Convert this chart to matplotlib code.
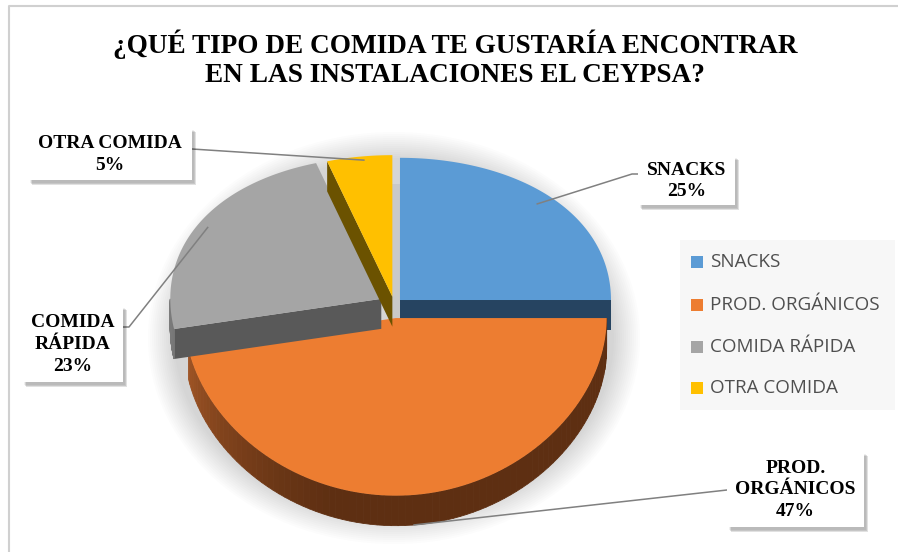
import numpy as np
import matplotlib.pyplot as plt
from matplotlib.patches import Polygon, Rectangle, Ellipse
from matplotlib.colors import to_rgb

categorias = ["SNACKS", "PROD. ORGÁNICOS", "COMIDA RÁPIDA", "OTRA COMIDA"]
porcentajes = [25, 47, 23, 5]
textos_etiqueta = ["SNACKS", "PROD.\nORGÁNICOS", "COMIDA\nRÁPIDA", "OTRA COMIDA"]
colores = ["#5b9bd5", "#ed7d31", "#a5a5a5", "#ffc000"]
colores_lado = ["#264461", "#5e2f12", "#595959", "#6b5200"]
colores_pared = ["#3d6b96", "#a85a28", "#7a7a7a", "#b08600"]
separacion = [0.04, 0.085, 0.07, 0.05]

titulo = "¿QUÉ TIPO DE COMIDA TE GUSTARÍA ENCONTRAR\nEN LAS INSTALACIONES EL CEYPSA?"

# geometria del pastel 3D en pixeles
CX, CY = 394, 304.5
RX, RY, K = 211, 159, 0.1
H = 30


def proyectar(u, v):
    return CX + RX * u, CY + RY * v * (1 + K * v)


def punto(theta, r, d, phi):
    t = np.radians(theta)
    p = np.radians(phi)
    u = r * np.sin(t) + d * np.sin(p)
    v = -r * np.cos(t) - d * np.cos(p)
    return proyectar(u, v)


fig = plt.figure(figsize=(8.98, 5.52), dpi=100)
ax = fig.add_axes([0, 0, 1, 1])
ax.set_xlim(0, 898)
ax.set_ylim(552, 0)
ax.axis("off")

# borde del grafico
ax.plot([9, 9, 898], [552, 6, 6], color="#d0d0d0", lw=1.5)

# sombra suave alrededor del pastel
for k in range(14):
    ax.add_patch(Ellipse((394, 338), 2 * (246 - 2 * k), 2 * (206 - 2 * k),
                         facecolor="#808080", edgecolor="none", alpha=0.022, zorder=1))

angulos = np.cumsum([0] + porcentajes) * 3.6

for i in [2, 3, 0, 1]:
    a0, a1 = angulos[i], angulos[i + 1]
    phi = (a0 + a1) / 2
    d = separacion[i]
    th = np.linspace(a0, a1, 120)
    xs, ys = punto(th, 1, d, phi)
    cx_, cy_ = punto(0, 0, d, phi)
    z = 2 + i

    if i == 0:
        # cara lateral clara de SNACKS (perspectiva)
        x0, y0 = xs[0], ys[0]
        ax.add_patch(Polygon([(x0, y0 + 26), (x0 - 9, y0 + 26), (cx_ - 9, cy_ + H), (cx_, cy_ + H)],
                             closed=True, facecolor="#c9c9c9", edgecolor="none", zorder=z))

    # caras radiales visibles
    if np.sin(np.radians(a1)) > 0.01:
        ax.add_patch(Polygon([(cx_, cy_), (xs[-1], ys[-1]), (xs[-1], ys[-1] + H), (cx_, cy_ + H)],
                             closed=True, facecolor=colores_lado[i], edgecolor="none", zorder=z))
    if np.sin(np.radians(a0)) < -0.01:
        ax.add_patch(Polygon([(cx_, cy_), (xs[0], ys[0]), (xs[0], ys[0] + H), (cx_, cy_ + H)],
                             closed=True, facecolor=colores_lado[i], edgecolor="none", zorder=z))

    # pared exterior (frente)
    w0, w1 = max(a0, 90), min(a1, 270)
    if w1 > w0:
        tw = np.linspace(w0, w1, 90)
        wx, wy = punto(tw, 1, d, phi)
        oscuro = np.array(to_rgb(colores_lado[i]))
        claro = np.array(to_rgb(colores_pared[i]))
        for j in range(len(tw) - 1):
            t = np.clip((tw[j] - 195) / 70, 0, 1) ** 1.3
            c = oscuro * (1 - t) + claro * t
            ax.add_patch(Polygon([(wx[j], wy[j]), (wx[j + 1], wy[j + 1]),
                                  (wx[j + 1], wy[j + 1] + H), (wx[j], wy[j] + H)],
                                 closed=True, facecolor=c, edgecolor=c, lw=0.6, zorder=z))

    # cara superior
    ax.add_patch(Polygon([(cx_, cy_)] + list(zip(xs, ys)), closed=True,
                         facecolor=colores[i], edgecolor="none", zorder=z + 0.5))

# titulo
ax.text(455, 59, titulo, ha="center", va="center", fontsize=19.6, fontweight="bold",
        family="Liberation Serif", color="black", linespacing=1.2)

# etiquetas con caja y sombra
cajas = [(638, 155, 97, 50), (727, 451, 137, 76), (22, 305, 101, 77), (28, 127, 164, 53)]
anclas = [(45, 0.92), (175, 1.0), (300, 0.95), (352, 0.97)]
for i in range(4):
    bx, by, bw, bh = cajas[i]
    for s in range(5):
        ax.add_patch(Rectangle((bx + 2 + s * 0.6, by + 3 + s * 0.6), bw, bh,
                               facecolor="#000000", edgecolor="none", alpha=0.06, zorder=10))
    ax.add_patch(Rectangle((bx, by), bw, bh, facecolor="white", edgecolor="none", zorder=11))
    ax.text(bx + bw / 2, by + bh / 2 + 1, f"{textos_etiqueta[i]}\n{porcentajes[i]}%",
            ha="center", va="center", fontsize=14, fontweight="bold",
            family="Liberation Serif", zorder=12, linespacing=1.35)

    a0, a1 = angulos[i], angulos[i + 1]
    phi = (a0 + a1) / 2
    ang, r = anclas[i]
    px, py = punto(ang, r, separacion[i], phi)
    if i == 1:
        py = py + H
    if i == 0:
        xs_l, ys_l = [px, bx - 6, bx], [py, by + 19, by + 19]
    elif i == 1:
        xs_l, ys_l = [px, bx], [py, by + 39]
    elif i == 2:
        xs_l, ys_l = [px, bx + bw + 6, bx + bw], [py, by + 22, by + 22]
    else:
        xs_l, ys_l = [px, bx + bw], [py, by + 22]
    ax.plot(xs_l, ys_l, color="#808080", lw=1.1, zorder=9)

# leyenda
ax.add_patch(Rectangle((680, 240), 215, 170, facecolor="#f7f7f7", edgecolor="none", zorder=1))
filas_y = [262, 305, 347, 388]
for i in range(4):
    ax.add_patch(Rectangle((691, filas_y[i] - 6), 12, 12, facecolor=colores[i],
                           edgecolor="none", zorder=3))
    ax.text(710, filas_y[i], categorias[i], ha="left", va="center", fontsize=13.6,
            family="Open Sans", color="#4f4f4f", zorder=3)

fig.savefig("out.png", dpi=100)
